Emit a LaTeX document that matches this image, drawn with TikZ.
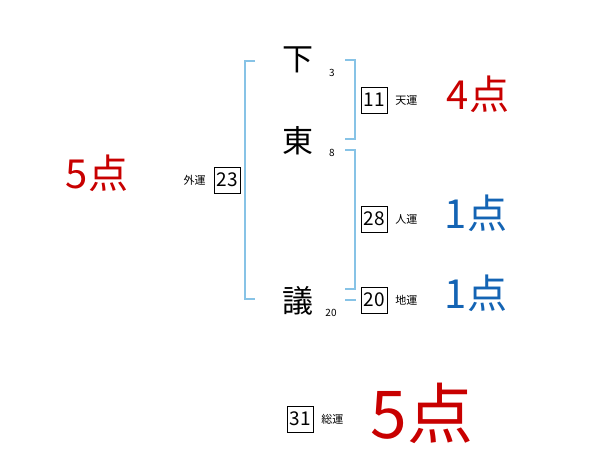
\documentclass[tikz,border=0pt]{standalone}
\usepackage{fontspec}
\setmainfont{Noto Sans CJK JP}
\usetikzlibrary{positioning, calc}
\definecolor{ScoreRed}{RGB}{200,0,0}
\definecolor{ScoreBlue}{RGB}{20,100,180}
\definecolor{BracketBlue}{RGB}{135,195,230}
\tikzset{
  kanji/.style={inner sep=0pt, font=\fontsize{31}{31}\selectfont},
  strokes/.style={inner sep=0pt, font=\fontsize{10}{10}\selectfont},
  unbox/.style={draw, thin, minimum width=26pt, minimum height=26pt, inner sep=0pt, font=\fontsize{19}{19}\selectfont},
  unlabel/.style={inner sep=0pt, font=\fontsize{11}{11}\selectfont},
  score/.style={inner sep=0pt, font=\fontsize{40}{40}\selectfont},
  bracket/.style={draw=BracketBlue, line width=1.6pt}
}

\begin{document}
\begin{tikzpicture}[x=1pt, y=-1pt]
  \useasboundingbox (0,0) rectangle (600,470);

  % name
  \node[kanji] (shita) at (298,60) {下};
  \node[kanji] (higashi) at (298,141) {東};
  \node[kanji] (gi) at (298,301) {議};
  \node[strokes] (s3) at (332,73) {3};
  \node[strokes] (s8) at (332,153) {8};
  \node[strokes] (s20) at (331,313) {20};

  % brackets
  \draw[bracket] (255,61) -- (245,61) -- (245,299) -- (255,299);
  \draw[bracket] (345,60) -- (355,60) -- (355,139) -- (345,139);
  \draw[bracket] (345,150) -- (355,150) -- (355,289) -- (345,289);

  % fortune boxes
  \node[unbox] (gaiun) at (227,180) {23};
  \node[unlabel, left=8pt of gaiun] (gaiunl) {外運};
  \node[unbox] (tenun) at (374,100) {11};
  \node[unlabel, right=8pt of tenun] (tenunl) {天運};
  \node[unbox] (jinun) at (374,219) {28};
  \node[unlabel, right=8pt of jinun] (jinunl) {人運};
  \node[unbox] (chiun) at (374,300) {20};
  \node[unlabel, right=8pt of chiun] (chiunl) {地運};
  \node[unbox] (soun) at (300,419) {31};
  \node[unlabel, right=8pt of soun] (sounl) {総運};

  \coordinate (dash) at (345,300);
  \draw[bracket] (dash) -- ($(chiun.west)+(-5,0)$);

  % scores
  \node[score, text=ScoreRed] (sc-ten) at (478,94) {4点};
  \node[score, text=ScoreBlue] (sc-jin) at (476,213) {1点};
  \node[score, text=ScoreBlue] (sc-chi) at (476,293) {1点};
  \node[score, text=ScoreRed] (sc-gai) at (97,173) {5点};
  \node[score, text=ScoreRed, font=\fontsize{66}{66}\selectfont] (sc-so) at (422,413) {5点};
\end{tikzpicture}
\end{document}
